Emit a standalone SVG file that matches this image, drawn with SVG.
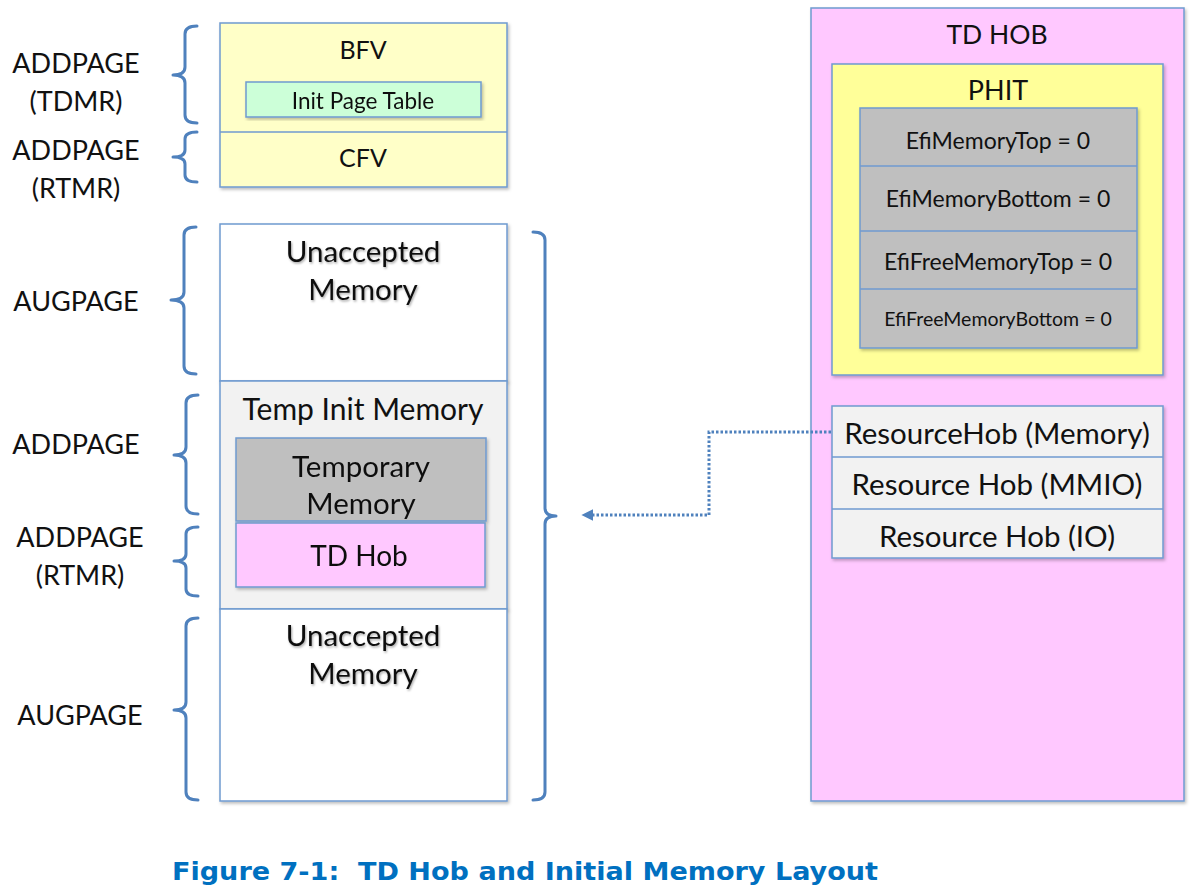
<svg xmlns="http://www.w3.org/2000/svg" width="1191" height="894" viewBox="0 0 1191 894">
<defs>
<filter id="sh" x="-10%" y="-10%" width="120%" height="120%"><feDropShadow dx="1.5" dy="2" stdDeviation="1.5" flood-color="#000" flood-opacity="0.25"/></filter>
<filter id="tsh" x="-10%" y="-20%" width="120%" height="140%"><feDropShadow dx="1" dy="1.5" stdDeviation="1.2" flood-color="#000" flood-opacity="0.35"/></filter>
<marker id="arr" viewBox="0 0 10 10" refX="2" refY="5" markerWidth="4" markerHeight="4" orient="auto-start-reverse"><path d="M0,0 L10,5 L0,10 z" fill="#4F81BD"/></marker>
</defs>
<style>
.box{stroke:#6F9AD0;stroke-width:1.5}
.t{font-family:Lato,"Open Sans","Liberation Sans",sans-serif;fill:#111;text-anchor:middle}
.lbl{font-family:Lato,"Open Sans","Liberation Sans",sans-serif;fill:#111;text-anchor:middle;font-size:27px}
.br{fill:none;stroke:#4F81BD;stroke-width:3;stroke-linecap:round;stroke-linejoin:round}
.yel{fill:#FFFFC8}.grn{fill:#CCFFD8}.wht{fill:#FFFFFF}.lg{fill:#F2F2F2}.gry{fill:#BFBFBF}.pnk{fill:#FFC8FF}.ph{fill:#FFFF99}
</style>
<rect width="1191" height="894" fill="#fff"/>

<g id="labels">
<text class="lbl" x="76" y="73">ADDPAGE</text>
<text class="lbl" x="76" y="111">(TDMR)</text>
<text class="lbl" x="76" y="160">ADDPAGE</text>
<text class="lbl" x="76" y="198">(RTMR)</text>
<text class="lbl" x="76" y="311">AUGPAGE</text>
<text class="lbl" x="76" y="454">ADDPAGE</text>
<text class="lbl" x="80" y="547">ADDPAGE</text>
<text class="lbl" x="80" y="585">(RTMR)</text>
<text class="lbl" x="80" y="725">AUGPAGE</text>
</g>

<g id="braces">
<path class="br" d="M197,26 Q185,26 185,34 L185,67 Q185,75 173,75 Q185,75 185,83 L185,115 Q185,123 197,123"/>
<path class="br" d="M197,132 Q185,132 185,139 L185,150 Q185,157 173,157 Q185,157 185,164 L185,175 Q185,182 197,182"/>
<path class="br" d="M196,227 Q184,227 184,235 L184,292 Q184,300 171,300 Q184,300 184,308 L184,366 Q184,374 196,374"/>
<path class="br" d="M198,395 Q186,395 186,403 L186,447 Q186,455 174,455 Q186,455 186,463 L186,506 Q186,514 198,514"/>
<path class="br" d="M198,527 Q186,527 186,534 L186,554 Q186,561 174,561 Q186,561 186,568 L186,589 Q186,596 198,596"/>
<path class="br" d="M198,618 Q186,618 186,626 L186,702 Q186,710 174,710 Q186,710 186,718 L186,792 Q186,800 198,800"/>
<path class="br" d="M533,232 Q545,232 545,240 L545,508 Q545,516 556,516 Q545,516 545,524 L545,792 Q545,800 533,800"/>
</g>

<g id="fv" filter="url(#sh)">
<rect class="box yel" x="220" y="23" width="287" height="164"/>
<line x1="220" y1="132" x2="507" y2="132" stroke="#6F9AD0" stroke-width="1.5"/>
</g>
<g id="bfv"><text class="t" x="363" y="59" font-size="25">BFV</text></g>
<g id="initpt" filter="url(#sh)">
<rect class="box grn" x="246" y="82" width="235" height="35"/>
<text class="t" x="363" y="109" font-size="22.5">Init Page Table</text>
</g>
<g id="cfv"><text class="t" x="363" y="167" font-size="25">CFV</text></g>

<g id="unacc1">
<rect class="box wht" x="220" y="224" width="287" height="157" filter="url(#sh)"/>
<g filter="url(#tsh)">
<text class="t" x="363" y="262" font-size="29.5">Unaccepted</text>
<text class="t" x="363" y="300" font-size="29.5">Memory</text>
</g>
</g>

<g id="tempinit">
<rect class="box lg" x="220" y="381" width="287" height="228" filter="url(#sh)"/>
<text class="t" x="363" y="420" font-size="30">Temp Init Memory</text>
</g>
<g id="tempmem" filter="url(#sh)">
<rect class="box gry" x="236" y="438" width="250" height="83"/>
<text class="t" x="361" y="477" font-size="29.5">Temporary</text>
<text class="t" x="361" y="514" font-size="29.5">Memory</text>
</g>
<g id="tdhob" filter="url(#sh)">
<rect class="box pnk" x="236" y="523" width="249" height="64"/>
<text class="t" x="359" y="566" font-size="28">TD Hob</text>
</g>

<g id="unacc2">
<rect class="box wht" x="220" y="609" width="287" height="192" filter="url(#sh)"/>
<g filter="url(#tsh)">
<text class="t" x="363" y="646" font-size="29.5">Unaccepted</text>
<text class="t" x="363" y="684" font-size="29.5">Memory</text>
</g>
</g>

<g id="tdhobbig">
<rect class="box pnk" x="811" y="8" width="373" height="793" filter="url(#sh)"/>
<text class="t" x="997" y="44" font-size="26.5">TD HOB</text>
</g>
<g id="phit">
<rect class="box ph" x="832" y="64" width="331" height="311" filter="url(#sh)"/>
<text class="t" x="998" y="100" font-size="27">PHIT</text>
</g>
<g id="phitfields" filter="url(#sh)">
<rect class="box gry" x="860" y="108" width="277" height="240"/>
<line x1="860" y1="166" x2="1137" y2="166" stroke="#6F9AD0" stroke-width="1.5"/>
<line x1="860" y1="231" x2="1137" y2="231" stroke="#6F9AD0" stroke-width="1.5"/>
<line x1="860" y1="289" x2="1137" y2="289" stroke="#6F9AD0" stroke-width="1.5"/>
</g>
<g id="f1"><text class="t" x="998" y="149" font-size="23" fill="#222">EfiMemoryTop = 0</text></g>
<g id="f2"><text class="t" x="998" y="207" font-size="23">EfiMemoryBottom = 0</text></g>
<g id="f3"><text class="t" x="998" y="270" font-size="23">EfiFreeMemoryTop = 0</text></g>
<g id="f4"><text class="t" x="998" y="326" font-size="19.5">EfiFreeMemoryBottom = 0</text></g>

<g id="res" filter="url(#sh)">
<rect class="box lg" x="832" y="406" width="331" height="152"/>
<line x1="832" y1="457" x2="1163" y2="457" stroke="#6F9AD0" stroke-width="1.5"/>
<line x1="832" y1="509" x2="1163" y2="509" stroke="#6F9AD0" stroke-width="1.5"/>
</g>
<g id="r1"><text class="t" x="997" y="444" font-size="29.5">ResourceHob (Memory)</text></g>
<g id="r2"><text class="t" x="997" y="495" font-size="29.5">Resource Hob (MMIO)</text></g>
<g id="r3"><text class="t" x="997" y="547" font-size="29.5">Resource Hob (IO)</text></g>

<g id="connectors">
<path d="M831,432 L709,432 L709,515 L591,515" fill="none" stroke="#4F81BD" stroke-width="3" stroke-dasharray="2.5 2" marker-end="url(#arr)"/>
</g>

<g id="caption">
<text x="172" y="880" xml:space="preserve" font-family="'DejaVu Sans',Verdana,sans-serif" font-weight="bold" font-size="24" fill="#0070C0" textLength="706" lengthAdjust="spacingAndGlyphs">Figure 7-1:  TD Hob and Initial Memory Layout</text>
</g>
</svg>
